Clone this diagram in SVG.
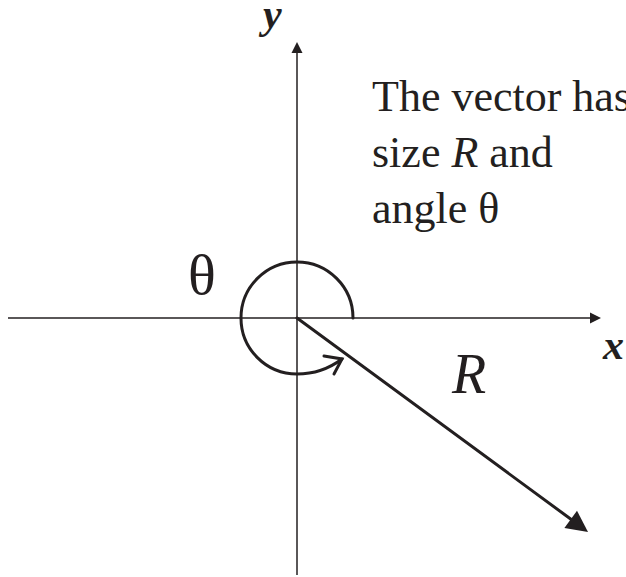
<svg xmlns="http://www.w3.org/2000/svg" width="626" height="577" viewBox="0 0 626 577">
<style>
.ax{stroke:#231f20;stroke-width:1.5;fill:none}
.heavy{stroke:#231f20;stroke-width:3;fill:none;stroke-linecap:round}
.head{fill:#231f20}
.t{font-family:"Liberation Serif","Times New Roman",serif;fill:#231f20}
</style>
<rect width="626" height="577" fill="#ffffff"/>
<g id="connectors">
<line class="ax" x1="8" y1="318" x2="591" y2="318"/>
<polygon class="head" points="601,318 590,312.5 590,323.5"/>
<line class="ax" x1="297" y1="575" x2="297" y2="52"/>
<polygon class="head" points="297,42 291.5,53 302.5,53"/>
<path class="heavy" d="M353,318 A56,56 0 1 0 297,374 Q322,374 342,359"/>
<polyline class="heavy" points="324,356 342,359 334,374" stroke-linejoin="miter"/>
<line class="heavy" x1="297" y1="318" x2="572" y2="520"/>
<polygon class="head" points="588,532 577,510.7 564.4,527.9"/>
</g>
<g id="label-y"><text class="t" x="263" y="28" font-size="42" font-style="italic" font-weight="bold">y</text></g>
<g id="label-x"><text class="t" x="603" y="359" font-size="42" font-style="italic" font-weight="bold">x</text></g>
<g id="label-theta"><text class="t" x="188" y="294" font-size="58">θ</text></g>
<g id="label-R"><text class="t" x="452" y="393" font-size="56" font-style="italic">R</text></g>
<g id="note">
<text class="t" x="372" y="111" font-size="44">The vector has</text>
<text class="t" x="372" y="167" font-size="44">size <tspan font-style="italic">R</tspan> and</text>
<text class="t" x="372" y="223" font-size="44">angle θ</text>
</g>
</svg>
